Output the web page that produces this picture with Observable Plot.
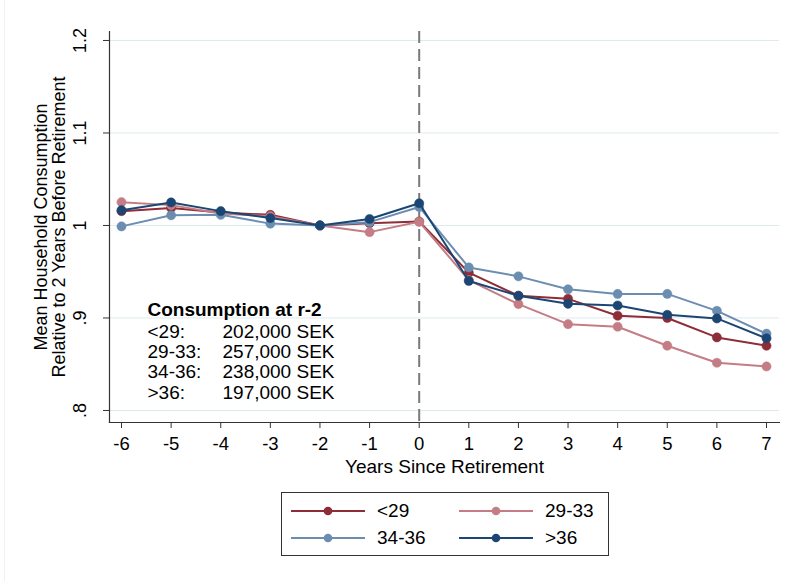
<!DOCTYPE html>
<html>
<head>
<meta charset="utf-8">
<script src="https://cdn.jsdelivr.net/npm/d3@7"></script>
<script src="https://cdn.jsdelivr.net/npm/@observablehq/plot@0.6"></script>
<style>
  html, body { margin: 0; padding: 0; background: #fff; }
  body { width: 794px; height: 581px; position: relative; overflow: hidden; font-family: "Liberation Sans", Arial, sans-serif; }
  #edge { position: absolute; left: 4px; top: 0; width: 1px; height: 581px; background: #eef2f3; }
  #chart { position: absolute; left: 0; top: 0; }
  #legend { position: absolute; left: 281px; top: 492px; width: 326px; height: 62px; border: 1px solid #333; background: #fff; }
  .item { position: absolute; height: 20px; display: flex; align-items: center; font-size: 19px; color: #000; }
  .item svg { margin-right: 11px; }
</style>
</head>
<body>
<div id="edge"></div>
<div id="chart"></div>
<div id="legend"></div>
<script>
// ---- data ----
const years = [-6, -5, -4, -3, -2, -1, 0, 1, 2, 3, 4, 5, 6, 7];
const seriesNames = ["<29", "29-33", "34-36", ">36"];
const seriesColors = ["#8e2c37", "#c47d85", "#6b8db0", "#1b4674"];
const lt29  = [1.0155, 1.019, 1.014, 1.0115, 1.0, 1.0025, 1.0043, 0.949, 0.924, 0.9207, 0.9024, 0.900, 0.879, 0.870];
const s2933 = [1.0252, 1.022, 1.013, 1.010, 1.0, 0.9928, 1.004, 0.941, 0.915, 0.8933, 0.8905, 0.870, 0.8516, 0.8476];
const s3436 = [0.999, 1.011, 1.0115, 1.002, 1.0, 1.0036, 1.020, 0.9546, 0.945, 0.931, 0.926, 0.926, 0.9077, 0.883];
const gt36  = [1.0165, 1.0249, 1.0155, 1.008, 1.0, 1.007, 1.024, 0.940, 0.924, 0.9153, 0.9135, 0.9034, 0.8995, 0.878];
const yTicks = [0.8, 0.9, 1.0, 1.1, 1.2];
const yTickLabels = [".8", ".9", "1", "1.1", "1.2"];
const xLabel = "Years Since Retirement";
const yLabel = "Mean Household Consumption\nRelative to 2 Years Before Retirement";
const noteTitle = "Consumption at r-2";
const noteGroups = ["<29:", "29-33:", "34-36:", ">36:"];
const noteValues = ["202,000 SEK", "257,000 SEK", "238,000 SEK", "197,000 SEK"];

// ---- build table ----
const seriesValues = [lt29, s2933, s3436, gt36];
const table = seriesNames.flatMap((s, k) => years.map((yr, i) => ({series: s, year: yr, value: seriesValues[k][i]})));

const font = "'Liberation Sans', Arial, sans-serif";

const seriesMarks = seriesNames.flatMap((s, k) => {
  const d = table.filter(r => r.series === s);
  return [
    Plot.line(d, {x: "year", y: "value", stroke: seriesColors[k], strokeWidth: 2}),
    Plot.dot(d, {x: "year", y: "value", fill: seriesColors[k], r: 4.6, stroke: seriesColors[k], strokeWidth: 0.5})
  ];
});

const chart = Plot.plot({
  width: 794,
  height: 485,
  marginLeft: 109,
  marginRight: 15,
  marginTop: 31,
  marginBottom: 63,
  style: {fontFamily: font, fontSize: "18px", color: "#000", background: "transparent"},
  x: {domain: [-6.242, 7.262]},
  y: {domain: [0.787, 1.2097]},
  marks: [
    Plot.gridY(yTicks, {stroke: "#dfeaee", strokeOpacity: 1, strokeWidth: 1}),
    Plot.ruleX([0], {stroke: "#7a7a7a", strokeWidth: 2, strokeDasharray: "12,6"}),
    ...seriesMarks,
    Plot.frame({anchor: "left", stroke: "#333", strokeWidth: 1.2}),
    Plot.frame({anchor: "bottom", stroke: "#333", strokeWidth: 1.2}),
    Plot.axisY(yTicks, {tickSize: 6, tickPadding: 18, tickRotate: -90, tickFormat: (d, i) => yTickLabels[yTicks.indexOf(d)], label: null, fontSize: 18, stroke: "#333"}),
    Plot.axisX(years, {tickSize: 6, tickPadding: 8, tickFormat: d => String(d), label: null, fontSize: 18.5, stroke: "#333"}),
    Plot.text([xLabel], {text: d => d, frameAnchor: "bottom", dy: 50, lineAnchor: "bottom", fontSize: 19}),
    Plot.text([yLabel], {text: d => d, frameAnchor: "left", dx: -59, rotate: -90, lineAnchor: "middle", textAnchor: "middle", fontSize: 18, lineHeight: 1.0}),
    Plot.text([noteTitle], {text: d => d, frameAnchor: "bottom-left", dx: 38, dy: -107, lineAnchor: "bottom", textAnchor: "start", fontWeight: "bold", fontSize: 19}),
    Plot.text([noteGroups.join("\n")], {text: d => d, frameAnchor: "bottom-left", dx: 38, dy: -24, lineAnchor: "bottom", textAnchor: "start", fontSize: 19, lineHeight: 1.06}),
    Plot.text([noteValues.join("\n")], {text: d => d, frameAnchor: "bottom-left", dx: 113, dy: -24, lineAnchor: "bottom", textAnchor: "start", fontSize: 19, lineHeight: 1.06})
  ]
});
document.getElementById("chart").appendChild(chart);

// ---- legend ----
const legend = document.getElementById("legend");
const pos = [[8, 8], [176, 8], [8, 35], [176, 35]];
seriesNames.forEach((s, k) => {
  const it = document.createElement("div");
  it.className = "item";
  it.style.left = pos[k][0] + "px";
  it.style.top = pos[k][1] + "px";
  it.innerHTML = `<svg width="76" height="20"><line x1="1" x2="75" y1="10" y2="10" stroke="${seriesColors[k]}" stroke-width="2"/><circle cx="38" cy="10" r="4.3" fill="${seriesColors[k]}"/></svg><span>${s.replace("<", "&lt;").replace(">", "&gt;")}</span>`;
  legend.appendChild(it);
});
</script>
</body>
</html>
